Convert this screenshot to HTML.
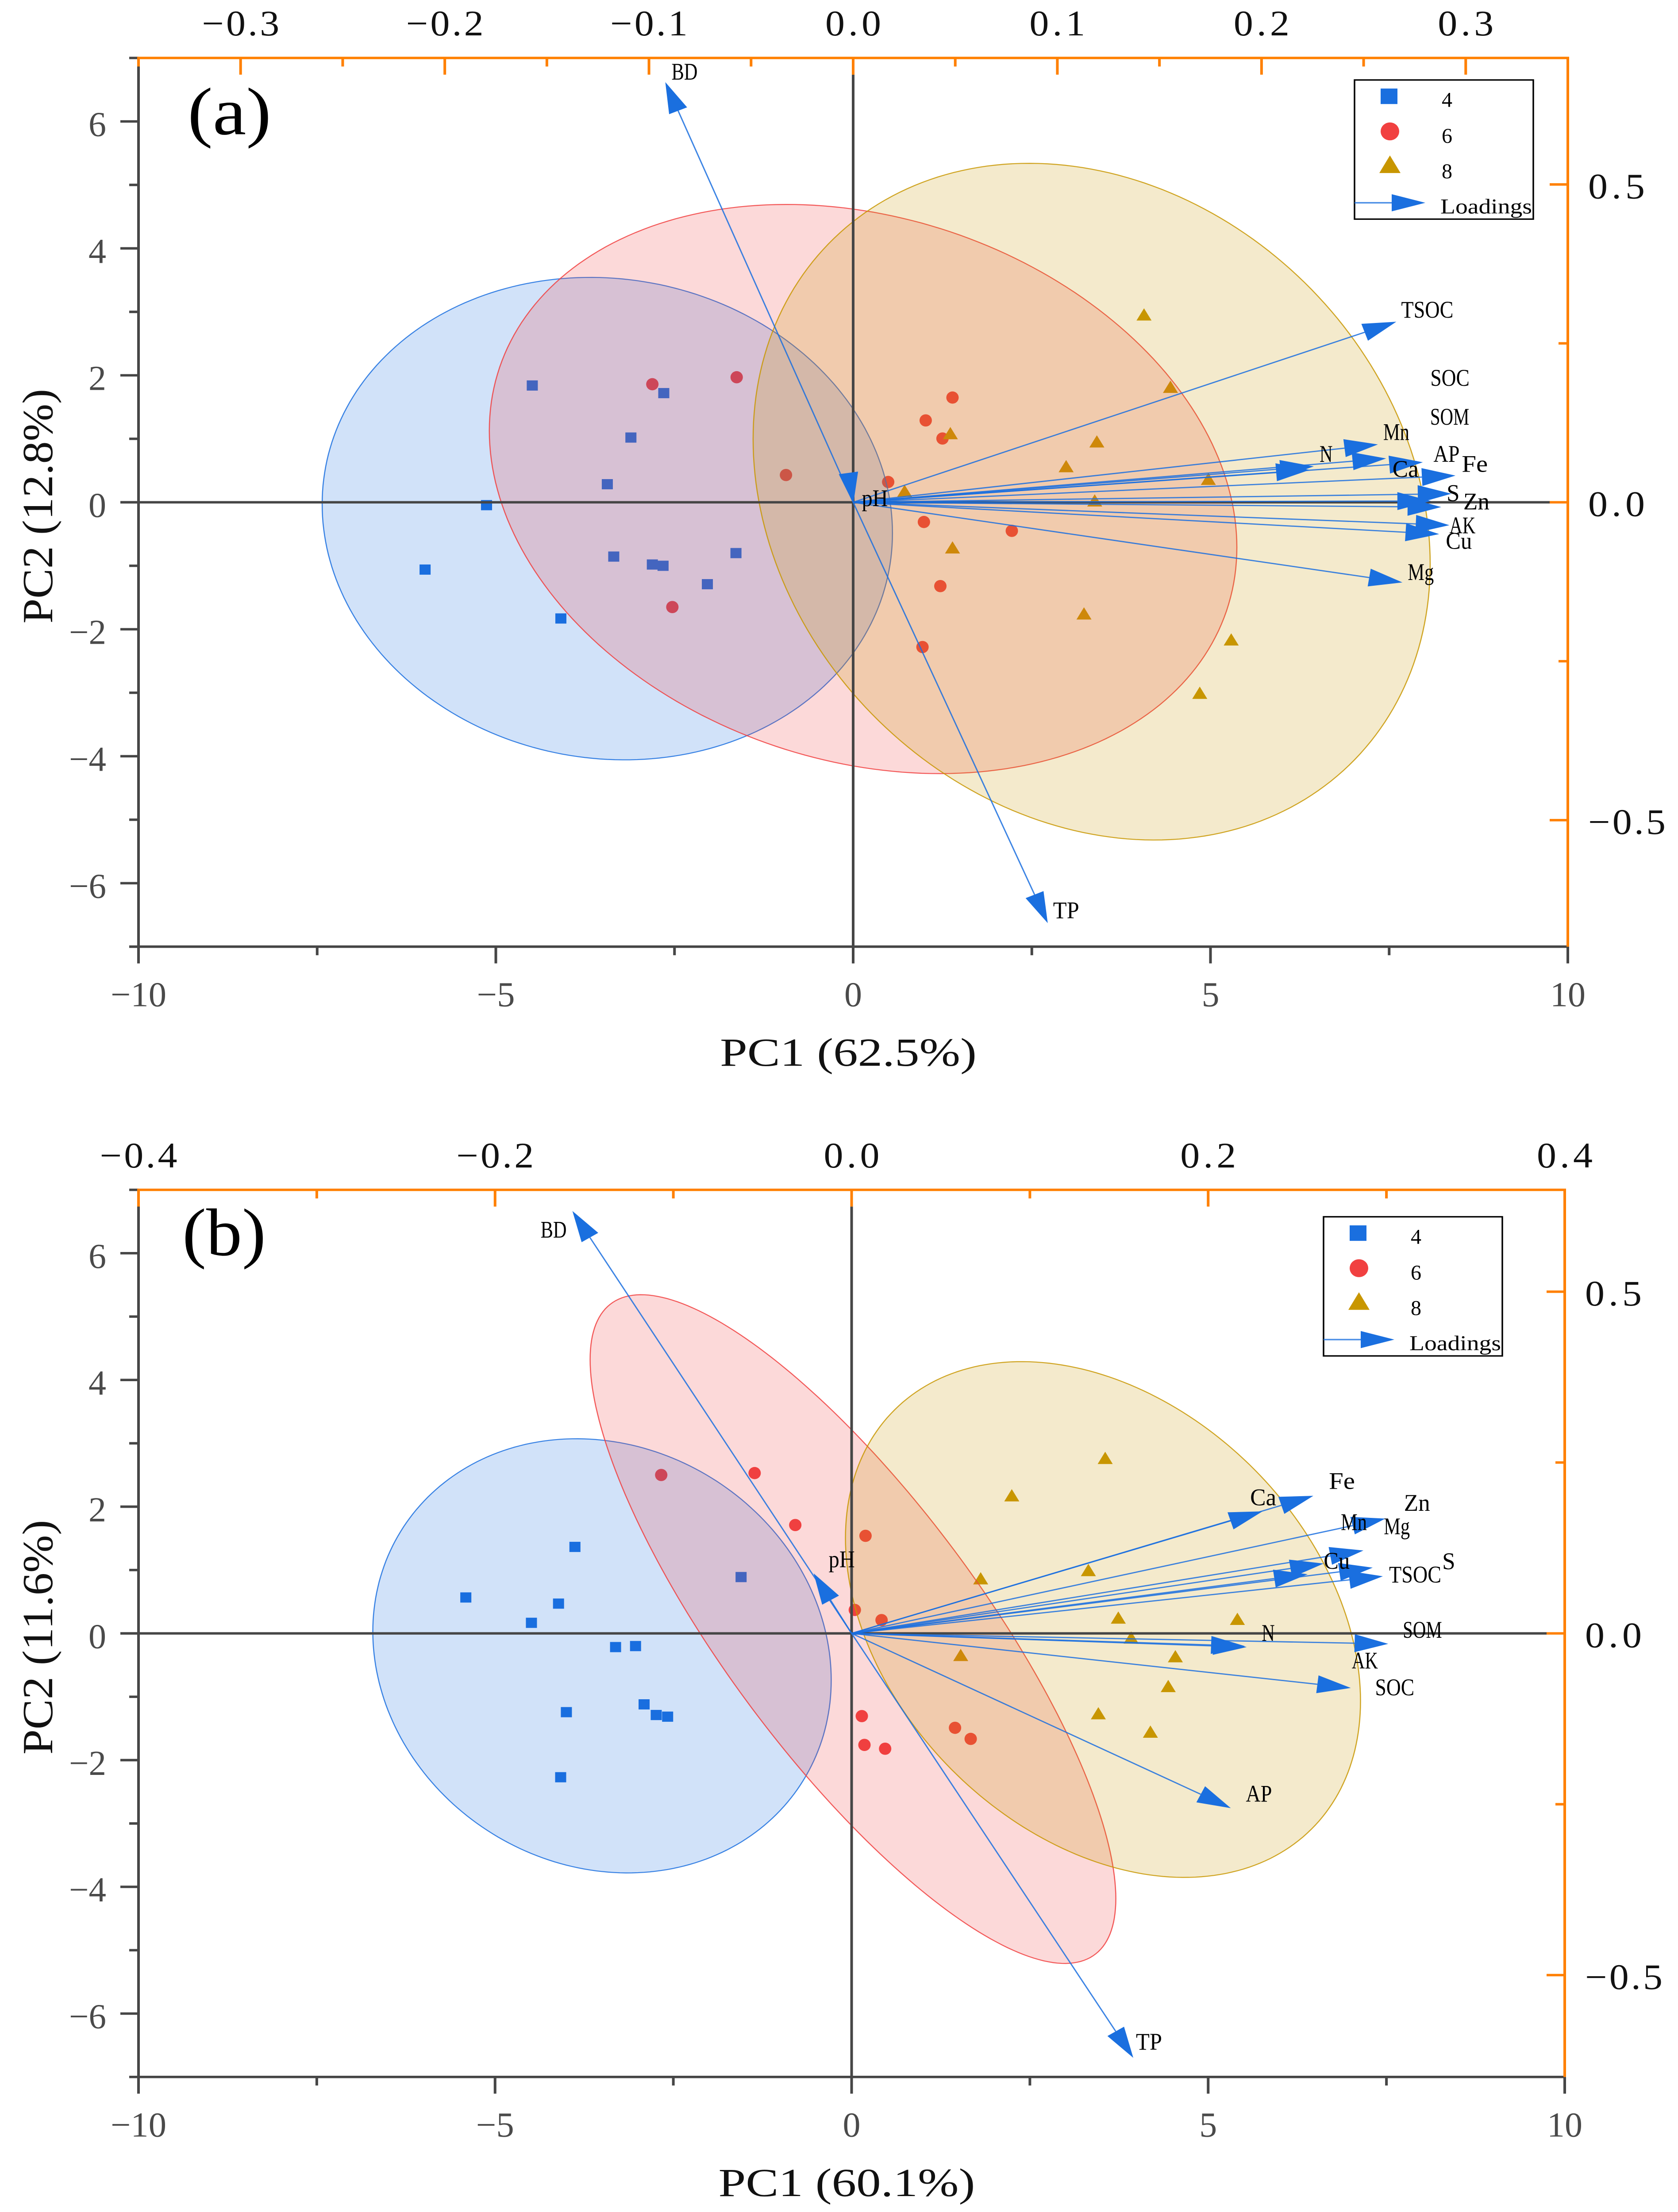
<!DOCTYPE html>
<html lang="en">
<head>
<meta charset="utf-8">
<title>PCA biplots (a) and (b)</title>
<style>
html,body{margin:0;padding:0;background:#fff;width:100%;height:100%;overflow:hidden;}
svg{display:block;position:fixed;left:0;top:0;width:100vw;height:100vh;overflow:hidden;}
text{font-family:"Liberation Serif","Noto Serif CJK SC",serif;}
script{display:none;}
</style>
</head>
<body>
<svg id="figure" xmlns="http://www.w3.org/2000/svg" viewBox="0 0 3792 5421" preserveAspectRatio="none">
<rect x="0" y="0" width="3792" height="5421" fill="#ffffff"/>
</svg>
<script>
/* ---------- Panel (a) data ---------- */
const aSquareX = [-4.49,-2.65,-3.11,-3.44,-5.13,-5.99,-3.35,-2.81,-2.66,-1.64,-2.04,-4.09];
const aSquareY = [1.84,1.72,1.02,0.285,-0.045,-1.06,-0.855,-0.98,-1.0,-0.80,-1.29,-1.83];
const aCircleX = [-2.81,-1.63,-0.94,-2.53,1.39,1.015,1.25,0.49,0.99,2.22,1.22,0.97];
const aCircleY = [1.86,1.97,0.43,-1.65,1.65,1.29,1.005,0.32,-0.31,-0.45,-1.32,-2.28];
const aTriangleX = [4.07,4.44,1.36,3.41,2.98,4.97,0.72,3.38,1.39,3.23,5.29,4.85];
const aTriangleY = [2.96,1.82,1.09,0.96,0.57,0.37,0.18,0.03,-0.71,-1.75,-2.16,-3.0];
const aEllipseCenterX = [-3.44,0.139,3.337];
const aEllipseCenterY = [-0.257,0.209,0.01];
const aEllipseHalfX = [3.99,5.23,4.737];
const aEllipseHalfY = [3.80,4.483,5.33];
const aEllipseCorr = [-0.06,-0.205,-0.185];
const aLoadingNames = ['BD','TP','TSOC','SOC','SOM','Mn','N','AP','Fe','Ca','S','Zn','AK','Cu','Mg','pH'];
const aLoadingX = [-0.092,0.0953,0.266,0.261,0.283,0.257,0.2256,0.279,0.295,0.2236,0.293,0.288,0.292,0.287,0.269,0.0001];
const aLoadingY = [0.661,-0.662,0.284,0.069,0.002,0.091,0.0565,0.063,0.042,0.051,0.0135,-0.0075,-0.036,-0.05,-0.126,-0.002];
const aTopTickValues = [-0.3,-0.2,-0.1,0,0.1,0.2,0.3];
const aTopTickLabels = ['\u22120.3','\u22120.2','\u22120.1','0.0','0.1','0.2','0.3'];
const aTopMinorValues = [-0.35,-0.25,-0.15,-0.05,0.05,0.15,0.25,0.35];
const aXTitle = 'PC1 (62.5%)';
const aYTitle = 'PC2 (12.8%)';

/* ---------- Panel (b) data ---------- */
const bSquareX = [-3.88,-5.41,-4.11,-4.49,-1.55,-3.31,-3.03,-4.0,-2.91,-2.74,-2.58,-4.08];
const bSquareY = [1.365,0.567,0.47,0.167,0.889,-0.216,-0.2,-1.243,-1.12,-1.288,-1.314,-2.27];
const bCircleX = [-2.67,-1.36,-0.79,0.195,0.045,0.42,0.143,0.18,0.47,1.45,1.67];
const bCircleY = [2.5,2.53,1.71,1.54,0.37,0.21,-1.305,-1.76,-1.82,-1.49,-1.665];
const bTriangleX = [3.556,2.246,3.32,1.81,3.74,5.41,3.92,1.53,4.54,4.44,3.46,4.19];
const bTriangleY = [2.77,2.18,1.0,0.87,0.25,0.23,-0.065,-0.34,-0.36,-0.83,-1.26,-1.55];
const bEllipseCenterX = [-3.50,0.019,3.525];
const bEllipseCenterY = [-0.354,0.068,0.219];
const bEllipseHalfX = [3.214,3.686,3.611];
const bEllipseHalfY = [3.426,5.277,4.07];
const bEllipseCorr = [-0.112,-0.806,-0.316];
const bLoadingNames = ['BD','pH','TP','AP','SOC','N','AK','SOM','Ca','Fe','Zn','Mg','Mn','Cu','S','TSOC'];
const bLoadingX = [-0.1566,-0.0213,0.158,0.2127,0.28,0.2216,0.2205,0.301,0.2305,0.259,0.2994,0.2923,0.2558,0.2648,0.2871,0.298];
const bLoadingY = [0.618,0.0878,-0.621,-0.2557,-0.0798,-0.02,-0.0185,-0.0153,0.1786,0.2013,0.168,0.0962,0.0866,0.1022,0.1213,0.0836];
const bTopTickValues = [-0.4,-0.2,0,0.2,0.4];
const bTopTickLabels = ['\u22120.4','\u22120.2','0.0','0.2','0.4'];
const bTopMinorValues = [-0.3,-0.1,0.1,0.3];
const bXTitle = 'PC1 (60.1%)';
const bYTitle = 'PC2 (11.6%)';

/* ---------- Shared axis data ---------- */
const xTickValues = [-10,-5,0,5,10];
const xTickLabels = ['\u221210','\u22125','0','5','10'];
const xMinorValues = [-7.5,-2.5,2.5,7.5];
const yTickValues = [-6,-4,-2,0,2,4,6];
const yTickLabels = ['\u22126','\u22124','\u22122','0','2','4','6'];
const yMinorValues = [-7,-5,-3,-1,1,3,5,7];
const rightTickValues = [-0.5,0,0.5];
const rightTickLabels = ['\u22120.5','0.0','0.5'];
const rightMinorValues = [-0.25,0.25];
const legendLabels = ['4','6','8','Loadings'];

/* ---------- Layout only (not data) ---------- */
const DARK = '#464646', ORANGE = '#ff8000', BLUE = '#1a6fdf', RED = '#f14040', GOLD = '#c89600';
const seriesColors = [BLUE, RED, GOLD];
const aLabelNudge = {BD:[14,-6],TP:[12,-12],TSOC:[11,-10],SOC:[100,-178],SOM:[-2,-187],Mn:[12,-11],N:[13,-11],AP:[24,-1],Fe:[14,-9],Ca:[187,17],S:[-11,18],Zn:[50,6],AK:[0,20],Cu:[15,36],Mg:[12,-6],pH:[19,6]};
const bLabelNudge = {BD:[-72,65],pH:[34,-15],TP:[6,-20],AP:[34,-16],SOC:[55,18],N:[34,-15],AK:[242,55],SOM:[33,-15],Ca:[-28,-15],Fe:[35,-17],Zn:[42,-19],Mg:[25,-82],Mn:[75,-108],Cu:[0,13],S:[178,46],TSOC:[14,15]};

const SVGNS = 'http://www.w3.org/2000/svg';
const figure = document.getElementById('figure');

function node(tag, parent, attrs) {
  const el = document.createElementNS(SVGNS, tag);
  for (const k in attrs) el.setAttribute(k, attrs[k]);
  parent.appendChild(el);
  return el;
}
function textNode(parent, str, x, y, size, width, fill, adjust) {
  const el = node('text', parent, {x:x, y:y, 'font-size':size, fill:fill, textLength:width, lengthAdjust:adjust || 'spacingAndGlyphs'});
  el.textContent = str;
  return el;
}
function charWidth(str, digit, minus) {
  let w = 0;
  for (const c of str) w += (c === '\u2212') ? minus : digit;
  return w;
}

function drawPanel(c) {
  const g = node('g', figure, {});
  
  

  const r = c.rect;
  const xScale = v => r.left + (v + 10) / 20 * (r.right - r.left);
  const yScale = v => r.bottom - (v + 7) / 14 * (r.bottom - r.top);
  const lxScale = v => r.left + (v + c.topMax) / (2 * c.topMax) * (r.right - r.left);
  const lyScale = v => r.bottom - (v + c.rightMax) / (2 * c.rightMax) * (r.bottom - r.top);

  /* score points */
  const sq = 25, rad = 14, triW = 17, triH = 15;
  c.squareX.forEach((vx, i) => {
    const el = node('rect', g, {x:xScale(vx)-sq/2, y:yScale(c.squareY[i])-sq/2, width:sq, height:sq, fill:BLUE});
    
    
  });
  c.circleX.forEach((vx, i) => {
    const el = node('ellipse', g, {cx:xScale(vx), cy:yScale(c.circleY[i]), rx:rad, ry:rad+1, fill:RED});
    
    
  });
  c.triangleX.forEach((vx, i) => {
    const px = xScale(vx), py = yScale(c.triangleY[i]);
    const el = node('polygon', g, {points:`${px},${py-triH} ${px+triW},${py+triH} ${px-triW},${py+triH}`, fill:GOLD});
    
    
  });

  /* confidence ellipses */
  c.ellipseCX.forEach((cx, i) => {
    const cy = c.ellipseCY[i], hx = c.ellipseHX[i], hy = c.ellipseHY[i], rho = c.ellipseRho[i];
    const s = Math.sqrt(1 - rho * rho);
    let d = '';
    for (let k = 0; k < 240; k++) {
      const t = k / 240 * 2 * Math.PI;
      const vx = cx + hx * Math.cos(t);
      const vy = cy + hy * (rho * Math.cos(t) + s * Math.sin(t));
      d += (k ? 'L' : 'M') + xScale(vx).toFixed(1) + ' ' + yScale(vy).toFixed(1);
    }
    const el = node('path', g, {d:d + 'Z', fill:seriesColors[i], 'fill-opacity':0.2, stroke:seriesColors[i], 'stroke-width':2.5, 'stroke-opacity':0.85});
    
    
  });

  const line = (x1, y1, x2, y2, color, w) => node('line', g, {x1:x1, y1:y1, x2:x2, y2:y2, stroke:color, 'stroke-width':w});
  const AW = 6, MAJ = 41, MIN = 21;

  /* bottom + left axes, zero lines */
  let el = line(r.left - MIN, r.bottom, r.right, r.bottom, DARK, AW);
  
  
  el = line(r.left, r.top + 16, r.left, r.bottom + MAJ, DARK, AW);
  
  
  el = line(r.left - MAJ, yScale(0), r.right - MAJ, yScale(0), DARK, AW);
  
  
  el = line(xScale(0), r.top + MAJ, xScale(0), r.bottom + MAJ, DARK, AW);
  
  

  xTickValues.forEach((v, i) => {
    const t = line(xScale(v), r.bottom, xScale(v), r.bottom + MAJ, DARK, AW);
    
    
    const w = charWidth(xTickLabels[i], 40, 46);
    const lab = textNode(g, xTickLabels[i], xScale(v) - w / 2, r.bottom + 146, 86, w, '#4a4a4a');
    
    
  });
  xMinorValues.forEach(v => {
    const t = line(xScale(v), r.bottom, xScale(v), r.bottom + MIN, DARK, AW);
    
    
  });
  yTickValues.forEach((v, i) => {
    const t = line(r.left - MAJ, yScale(v), r.left, yScale(v), DARK, AW);
    
    
    const w = charWidth(yTickLabels[i], 40, 44);
    const lab = textNode(g, yTickLabels[i], 240 - w, yScale(v) + 36, 86, w, '#4a4a4a');
    
    
  });
  yMinorValues.forEach(v => {
    const t = line(r.left - MIN, yScale(v), r.left, yScale(v), DARK, AW);
    
    
  });

  /* top + right orange axes */
  el = line(r.left - 3, r.top, r.right + 3, r.top, ORANGE, AW);
  
  
  el = line(r.right, r.top, r.right, r.bottom, ORANGE, AW);
  
  
  c.topValues.forEach((v, i) => {
    const t = line(lxScale(v), r.top, lxScale(v), r.top + MAJ, ORANGE, AW);
    
    
    const w = c.topLabels[i].includes('\u2212') ? 175 : 126;
    const lab = textNode(g, c.topLabels[i], lxScale(v) - w / 2, r.top - 55, 88, w, '#111', 'spacing');
    
    
  });
  c.topMinor.forEach(v => {
    const t = line(lxScale(v), r.top, lxScale(v), r.top + MIN, ORANGE, AW);
    
    
  });
  rightTickValues.forEach((v, i) => {
    const t = line(r.right - MAJ, lyScale(v), r.right, lyScale(v), ORANGE, AW);
    
    
    const w = rightTickLabels[i].includes('\u2212') ? 175 : 128;
    const lab = textNode(g, rightTickLabels[i], r.right + 46, lyScale(v) + 34, 88, w, '#111', 'spacing');
    
    
  });
  rightMinorValues.forEach(v => {
    const t = line(r.right - MIN, lyScale(v), r.right, lyScale(v), ORANGE, AW);
    
    
  });

  /* loading arrows */
  const HL = 76, HW = 22;
  c.loadingNames.forEach((name, i) => {
    const tx = lxScale(c.loadingX[i]), ty = lyScale(c.loadingY[i]);
    const ox = lxScale(0), oy = lyScale(0);
    const len = Math.hypot(tx - ox, ty - oy) || 1;
    const ux = (tx - ox) / len, uy = (ty - oy) / len;
    const bx = tx - ux * HL, by = ty - uy * HL;
    if (len > HL) {
      const shaft = node('line', g, {x1:ox, y1:oy, x2:bx, y2:by, stroke:BLUE, 'stroke-width':3, 'stroke-opacity':0.85});
      
      
    }
    const head = node('polygon', g, {points:`${tx},${ty} ${bx - uy*HW},${by + ux*HW} ${bx + uy*HW},${by - ux*HW}`, fill:BLUE});
    
    
  });
  c.loadingNames.forEach((name, i) => {
    const n = c.nudge[name];
    const lab = textNode(g, name, lxScale(c.loadingX[i]) + n[0], lyScale(c.loadingY[i]) + n[1], 58, name.length * 29.5, '#000');
    
    
  });

  /* axis titles + panel tag */
  const zx = xScale(0), zy = yScale(0);
  el = textNode(g, c.xTitle, zx - 301, r.bottom + 292, 98, 580, '#111');
  
  
  el = textNode(g, c.yTitle, 0, 0, 98, 575, '#111');
  el.setAttribute('transform', `translate(118 ${zy + 10 + 287}) rotate(-90)`);
  
  
  el = textNode(g, c.tag, c.tagX, c.tagY, 165, 189, '#000');
  
  

  /* legend */
  const lg = node('g', g, {transform:`translate(${c.legendX} ${c.legendY})`});
  
  
  el = node('rect', lg, {x:0, y:0, width:404, height:341, fill:'#fff', stroke:'#000', 'stroke-width':3.5});
  
  
  el = node('rect', lg, {x:59, y:21, width:38, height:38, fill:BLUE});
  
  
  el = node('ellipse', lg, {cx:80, cy:126, rx:21, ry:22, fill:RED});
  
  
  el = node('polygon', lg, {points:'80,185 104,228 56,228', fill:GOLD});
  
  
  el = node('line', lg, {x1:0, y1:301, x2:84, y2:301, stroke:BLUE, 'stroke-width':3.5, 'stroke-opacity':0.8});
  
  
  el = node('polygon', lg, {points:'84,280 84,322 160,301', fill:BLUE});
  
  
  [66, 154, 241].forEach((base, i) => {
    const t = textNode(lg, legendLabels[i], 197, base, 52, 24, '#000');
    
    
  });
  el = textNode(lg, legendLabels[3], 194, 327, 52, 207, '#000');
  
  
}

drawPanel({
  id:'panel-a', tag:'(a)', tagX:424, tagY:329,
  rect:{left:313, right:3543, top:142, bottom:2320},
  topMax:0.35, rightMax:0.699,
  squareX:aSquareX, squareY:aSquareY, circleX:aCircleX, circleY:aCircleY, triangleX:aTriangleX, triangleY:aTriangleY,
  ellipseCX:aEllipseCenterX, ellipseCY:aEllipseCenterY, ellipseHX:aEllipseHalfX, ellipseHY:aEllipseHalfY, ellipseRho:aEllipseCorr,
  loadingNames:aLoadingNames, loadingX:aLoadingX, loadingY:aLoadingY, nudge:aLabelNudge,
  topValues:aTopTickValues, topLabels:aTopTickLabels, topMinor:aTopMinorValues,
  xTitle:aXTitle, yTitle:aYTitle, legendX:3061, legendY:196
});
drawPanel({
  id:'panel-b', tag:'(b)', tagX:412, tagY:3076,
  rect:{left:313, right:3536, top:2916, bottom:5090},
  topMax:0.4, rightMax:0.649,
  squareX:bSquareX, squareY:bSquareY, circleX:bCircleX, circleY:bCircleY, triangleX:bTriangleX, triangleY:bTriangleY,
  ellipseCX:bEllipseCenterX, ellipseCY:bEllipseCenterY, ellipseHX:bEllipseHalfX, ellipseHY:bEllipseHalfY, ellipseRho:bEllipseCorr,
  loadingNames:bLoadingNames, loadingX:bLoadingX, loadingY:bLoadingY, nudge:bLabelNudge,
  topValues:bTopTickValues, topLabels:bTopTickLabels, topMinor:bTopMinorValues,
  xTitle:bXTitle, yTitle:bYTitle, legendX:2991, legendY:2982
});
</script>
</body>
</html>
